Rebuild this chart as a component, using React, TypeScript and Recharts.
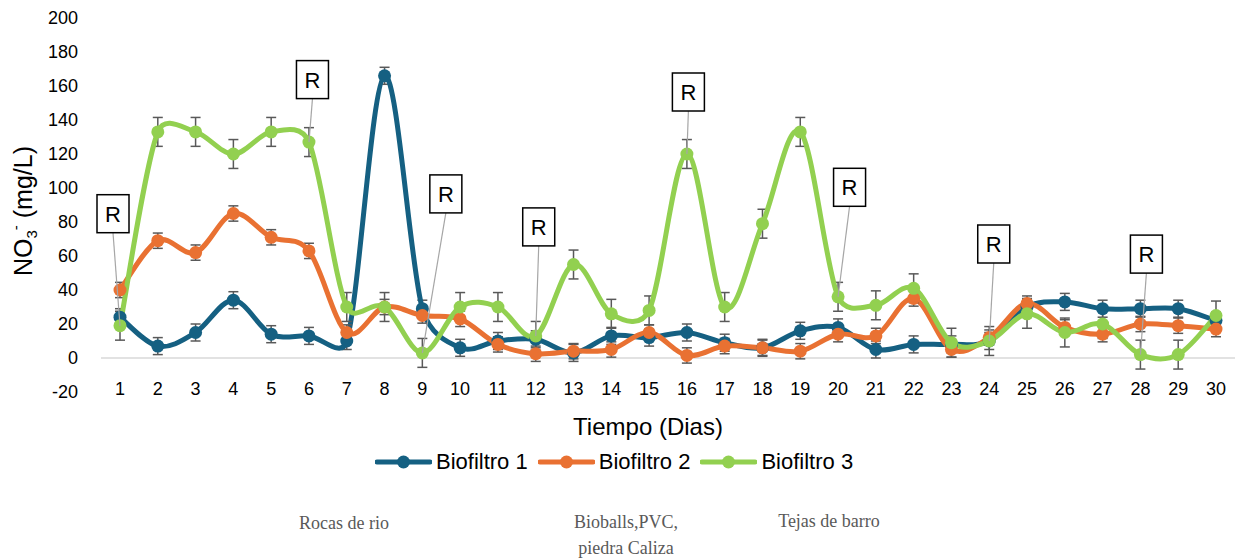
import { LineChart, Line, XAxis, YAxis, ReferenceLine, ErrorBar, LabelList } from "recharts";

// Días de muestreo
const dias = [1, 2, 3, 4, 5, 6, 7, 8, 9, 10, 11, 12, 13, 14, 15, 16, 17, 18, 19, 20, 21, 22, 23, 24, 25, 26, 27, 28, 29, 30];

// NO3- (mg/L) por biofiltro
const biofiltro1 = [24, 7, 15, 34, 14, 13, 10, 166, 29, 6, 10, 11, 3, 13, 12, 15, 9, 6, 16, 18, 5, 8, 8, 10, 30, 33, 29, 29, 29, 22];
const biofiltro2 = [40, 69, 62, 85, 71, 63, 15, 30, 25, 23, 8, 2.5, 4, 5, 15, 1.5, 7, 6, 4, 14, 13, 35, 5, 12, 32, 18, 14, 20, 19, 17];
const biofiltro3 = [19, 133, 133, 120, 133, 127, 30, 30, 3, 30, 30, 13, 55, 26, 28, 120, 30, 79, 133, 36, 31, 41, 9, 10, 26, 15, 20, 2, 2, 25];

// barras de error (+/-)
const errorBio1 = 5;
const errorBio2 = 4.5;
const errorBio3 = 8.5;

const yTicks = [-20, 0, 20, 40, 60, 80, 100, 120, 140, 160, 180, 200];

// días con recambio ("R") sobre Biofiltro 3
const diasReinicio = [1, 6, 9, 12, 16, 20, 24, 28];
// posición de cada caja respecto al punto (px)
const desplazamientoR = [
  [-7, -112], [3.5, -62.5], [23.5, -159], [3, -109],
  [1.5, -62], [11.5, -109.5], [4.5, -97], [6, -100.5],
];

const series = [
  { key: "b1", err: "e1", name: "Biofiltro 1", color: "#156082" },
  { key: "b2", err: "e2", name: "Biofiltro 2", color: "#E97132" },
  { key: "b3", err: "e3", name: "Biofiltro 3", color: "#92D050" },
];

const data = dias.map((d, i) => ({
  dia: d,
  b1: biofiltro1[i],
  b2: biofiltro2[i],
  b3: biofiltro3[i],
  e1: errorBio1,
  e2: errorBio2,
  e3: errorBio3,
}));

const FONT = "'Liberation Sans', Arial, sans-serif";
const SERIF = "'Liberation Serif', 'Times New Roman', serif";

const dist = (a: number[], b: number[]) => Math.hypot(b[0] - a[0], b[1] - a[1]);

// suavizado tipo Excel: bezier con tangentes 1/6, limitadas a media longitud del tramo
const curvaSuave = (context: any) => {
  let pts: number[][] = [];
  return {
    areaStart() {},
    areaEnd() {},
    lineStart() {
      pts = [];
    },
    point(x: number, y: number) {
      pts.push([+x, +y]);
    },
    lineEnd() {
      const n = pts.length;
      if (!n) return;
      context.moveTo(pts[0][0], pts[0][1]);
      for (let i = 0; i < n - 1; i++) {
        const p0 = pts[i === 0 ? 0 : i - 1];
        const p1 = pts[i];
        const p2 = pts[i + 1];
        const p3 = pts[i + 2 < n ? i + 2 : n - 1];
        const d12 = dist(p1, p2);
        const d02 = dist(p0, p2);
        const d13 = dist(p1, p3);
        let f1 = 1 / 6;
        let f2 = 1 / 6;
        if (d02 / 6 > d12 / 2 && d02 > 0) f1 = d12 / 2 / d02;
        if (d13 / 6 > d12 / 2 && d13 > 0) f2 = d12 / 2 / d13;
        context.bezierCurveTo(
          p1[0] + (p2[0] - p0[0]) * f1,
          p1[1] + (p2[1] - p0[1]) * f1,
          p2[0] - (p3[0] - p1[0]) * f2,
          p2[1] - (p3[1] - p1[1]) * f2,
          p2[0],
          p2[1]
        );
      }
    },
  };
};

const XTick = ({ x, y, payload }: any) => (
  <text x={x} y={y + 3} textAnchor="middle" fontSize={18} fontFamily={FONT} fill="#000">
    {payload.value}
  </text>
);

const YTick = ({ x, y, payload }: any) => (
  <text x={x - 23} y={y + 6} textAnchor="end" fontSize={18} fontFamily={FONT} fill="#000">
    {payload.value}
  </text>
);

const CajaR = (props: any) => {
  const { x, y, index } = props;
  const k = diasReinicio.indexOf(dias[index]);
  if (k < 0) return null;
  const cx = x + desplazamientoR[k][0];
  const cy = y + desplazamientoR[k][1];
  return (
    <g>
      <line x1={cx} y1={cy + 19} x2={x} y2={y} stroke="#A6A6A6" strokeWidth={1.2} />
      <rect x={cx - 16} y={cy - 19} width={32} height={38} fill="#fff" stroke="#000" strokeWidth={1.5} />
      <text x={cx} y={cy + 8} textAnchor="middle" fontSize={22} fontFamily={FONT} fill="#000">
        R
      </text>
    </g>
  );
};

export default function App() {
  return (
    <div style={{ position: "absolute", left: 0, top: 0, width: 1241, height: 560, background: "#fff" }}>
      <LineChart
        width={1241}
        height={560}
        data={data}
        margin={{ top: 18, right: 6, left: 21, bottom: 108 }}
      >
        <XAxis
          dataKey="dia"
          axisLine={false}
          tickLine={false}
          tickSize={0}
          tickMargin={0}
          height={60}
          interval={0}
          padding={{ left: 19, right: 19 }}
          tick={<XTick />}
          label={{
            content: (p: any) => (
              <text
                x={p.viewBox.x + p.viewBox.width / 2 - 20}
                y={p.viewBox.y + 43}
                textAnchor="middle"
                fontSize={24}
                fontFamily={FONT}
                fill="#000"
              >
                Tiempo (Dias)
              </text>
            ),
          }}
        />
        <YAxis
          domain={[-20, 200]}
          ticks={yTicks}
          width={80}
          axisLine={false}
          tickLine={false}
          tickSize={0}
          tickMargin={0}
          interval={0}
          tick={<YTick />}
          label={{
            content: () => (
              <text
                x={0}
                y={0}
                transform="translate(32, 211) rotate(-90)"
                textAnchor="middle"
                fontSize={25}
                fontFamily={FONT}
                fill="#000"
              >
                NO
                <tspan fontSize={15} dy={5}>3</tspan>
                <tspan fontSize={15} dy={-16}>-</tspan>
                <tspan dy={11}>{"  (mg/L)"}</tspan>
              </text>
            ),
          }}
        />
        <ReferenceLine y={0} stroke="#D9D9D9" strokeWidth={1.5} />
        {series.map((s) => (
          <Line
            key={s.key}
            dataKey={s.key}
            name={s.name}
            type={curvaSuave as any}
            stroke={s.color}
            strokeWidth={5}
            dot={{ r: 6.5, fill: s.color, stroke: s.color, strokeWidth: 0 }}
            activeDot={false}
            isAnimationActive={false}
          >
            <ErrorBar dataKey={s.err} direction="y" width={5} stroke="#595959" strokeWidth={1.5} />
            {s.key === "b3" && <LabelList dataKey="b3" content={<CajaR />} />}
          </Line>
        ))}
      </LineChart>

      {/* leyenda */}
      <div
        style={{
          position: "absolute",
          left: 375,
          top: 449,
          display: "flex",
          alignItems: "center",
          fontFamily: FONT,
          fontSize: 22,
          color: "#000",
          whiteSpace: "nowrap",
        }}
      >
        {series.map((s) => (
          <div key={s.key} style={{ display: "flex", alignItems: "center", marginRight: 10 }}>
            <svg width={57} height={16} style={{ marginRight: 4 }}>
              <line x1={2} y1={8} x2={55} y2={8} stroke={s.color} strokeWidth={5} strokeLinecap="round" />
              <circle cx={28.5} cy={8} r={6.5} fill={s.color} />
            </svg>
            <span>{s.name}</span>
          </div>
        ))}
      </div>

      {/* materiales */}
      <div style={{ position: "absolute", left: 284, width: 120, top: 513, textAlign: "center", fontFamily: SERIF, fontSize: 18, color: "#595959" }}>
        Rocas de rio
      </div>
      <div style={{ position: "absolute", left: 566, width: 120, top: 509, textAlign: "center", fontFamily: SERIF, fontSize: 18, lineHeight: "26px", color: "#595959" }}>
        Bioballs,PVC,
        <br />
        piedra Caliza
      </div>
      <div style={{ position: "absolute", left: 769, width: 120, top: 511, textAlign: "center", fontFamily: SERIF, fontSize: 18, color: "#595959" }}>
        Tejas de barro
      </div>
    </div>
  );
}
